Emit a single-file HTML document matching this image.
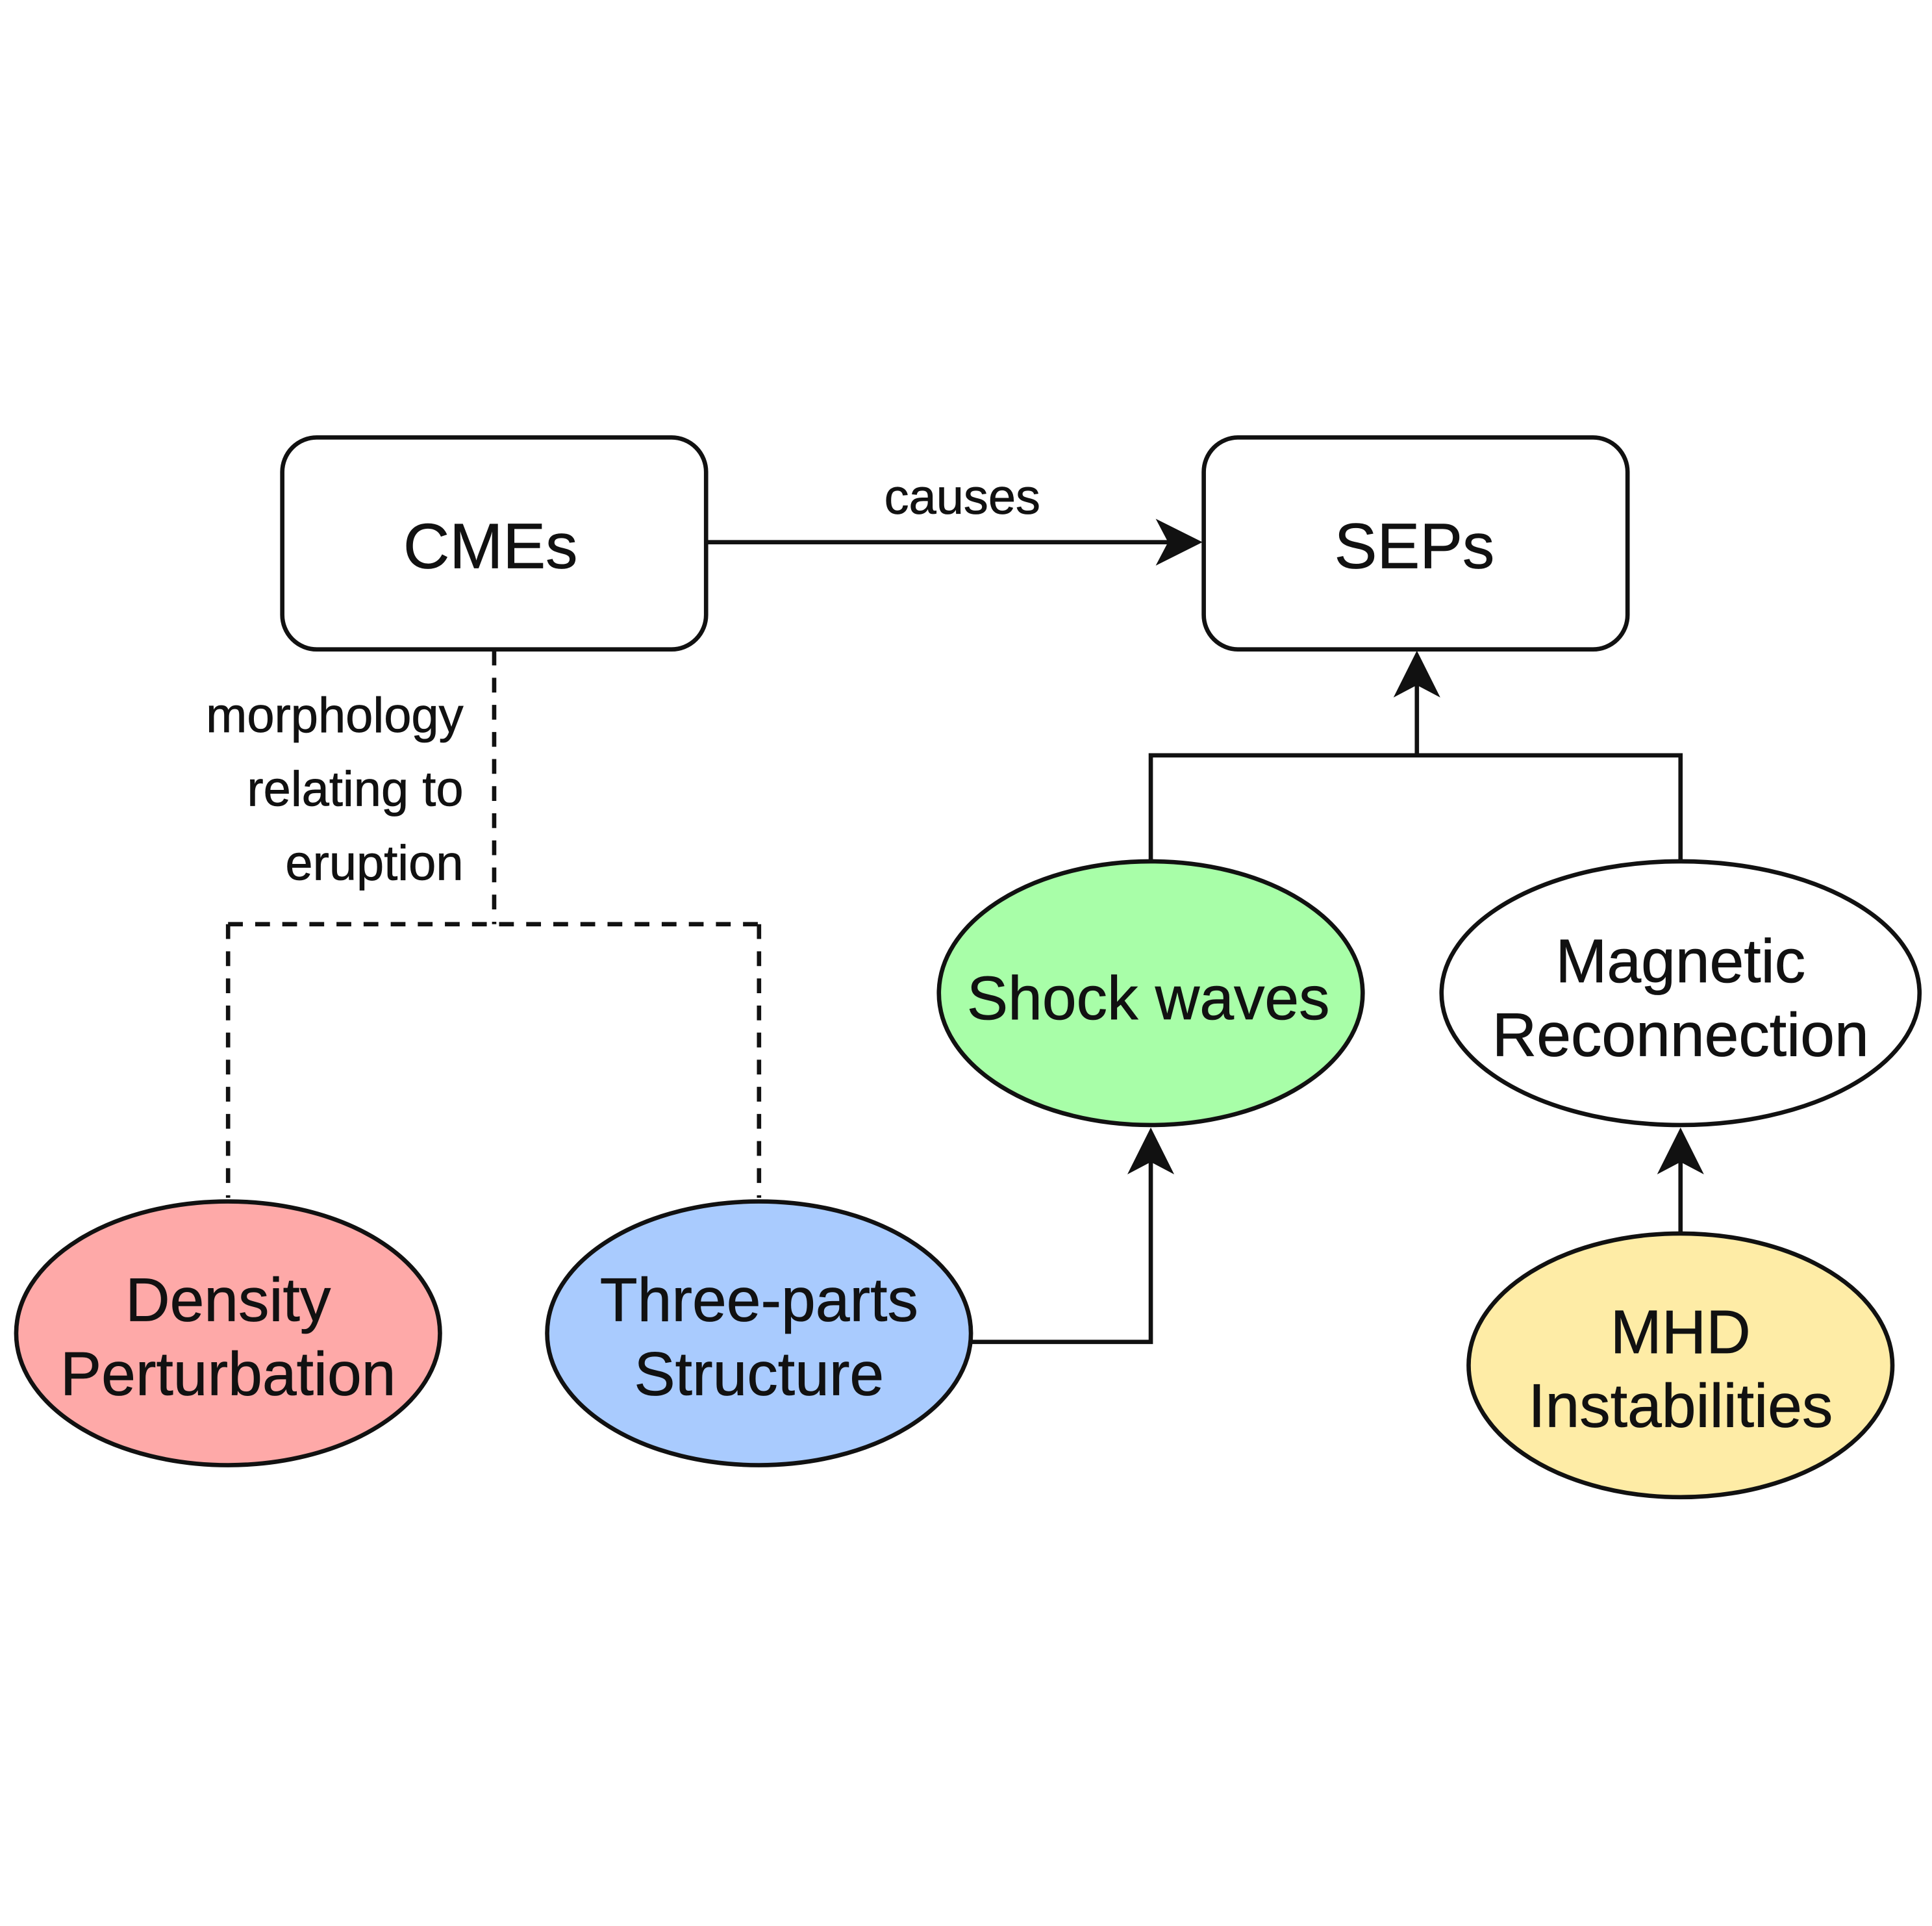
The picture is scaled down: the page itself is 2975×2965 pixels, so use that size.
<!DOCTYPE html>
<html><head><meta charset="utf-8"><style>
html,body{margin:0;padding:0;background:#fff;}
svg{display:block;}
text{font-family:"Liberation Sans",sans-serif;fill:#111;stroke:#111;stroke-width:0.4;}
</style></head><body>
<svg width="2975" height="2965" viewBox="0 0 1568 1563" xmlns="http://www.w3.org/2000/svg">
<rect x="0" y="0" width="1568" height="1563" fill="#fff"/>
<rect x="229" y="355" width="344" height="172" rx="28" fill="#fff" stroke="#111" stroke-width="3.5"/>
<rect x="977" y="355" width="344" height="172" rx="28" fill="#fff" stroke="#111" stroke-width="3.5"/>
<text x="398" y="461" font-size="52" text-anchor="middle">CMEs</text>
<text x="1148" y="461" font-size="52" text-anchor="middle">SEPs</text>
<line x1="573" y1="440" x2="950" y2="440" stroke="#111" stroke-width="3.5"/>
<path d="M976,440 L938,421 L948,440 L938,459 Z" fill="#111"/>
<text x="781" y="417" font-size="40" text-anchor="middle">causes</text>
<path d="M401,528 V750 M185,750 H616 M185,750 V972 M616,750 V972" fill="none" stroke="#111" stroke-width="3.5" stroke-dasharray="12,10"/>
<text x="376" y="594" font-size="40" text-anchor="end">morphology</text>
<text x="376" y="654" font-size="40" text-anchor="end">relating to</text>
<text x="376" y="714" font-size="40" text-anchor="end">eruption</text>
<path d="M788,1089 H934 V940" fill="none" stroke="#111" stroke-width="3.5"/>
<path d="M934,915 L915,953 L934,943 L953,953 Z" fill="#111"/>
<path d="M934,699 V613 H1364 V699 M1150,613 V555" fill="none" stroke="#111" stroke-width="3.5"/>
<path d="M1150,528 L1131,566 L1150,556 L1169,566 Z" fill="#111"/>
<path d="M1364,1001 V940" fill="none" stroke="#111" stroke-width="3.5"/>
<path d="M1364,915 L1345,953 L1364,943 L1383,953 Z" fill="#111"/>
<ellipse cx="185" cy="1082" rx="172" ry="107" fill="#fea9a8" stroke="#111" stroke-width="3.5"/>
<ellipse cx="616" cy="1082" rx="172" ry="107" fill="#a9cbfe" stroke="#111" stroke-width="3.5"/>
<ellipse cx="934" cy="806" rx="172" ry="107" fill="#a8fea8" stroke="#111" stroke-width="3.5"/>
<ellipse cx="1364" cy="806" rx="194" ry="107" fill="#fff" stroke="#111" stroke-width="3.5"/>
<ellipse cx="1364" cy="1108" rx="172" ry="107" fill="#feeca6" stroke="#111" stroke-width="3.5"/>
<g font-size="50" text-anchor="middle">
<text x="185" y="1072">Density</text>
<text x="185" y="1132">Perturbation</text>
<text x="616" y="1072">Three-parts</text>
<text x="616" y="1132">Structure</text>
<text x="932" y="827">Shock waves</text>
<text x="1364" y="797">Magnetic</text>
<text x="1364" y="857">Reconnection</text>
<text x="1364" y="1098">MHD</text>
<text x="1364" y="1158">Instabilities</text>
</g>
</svg>
</body></html>
